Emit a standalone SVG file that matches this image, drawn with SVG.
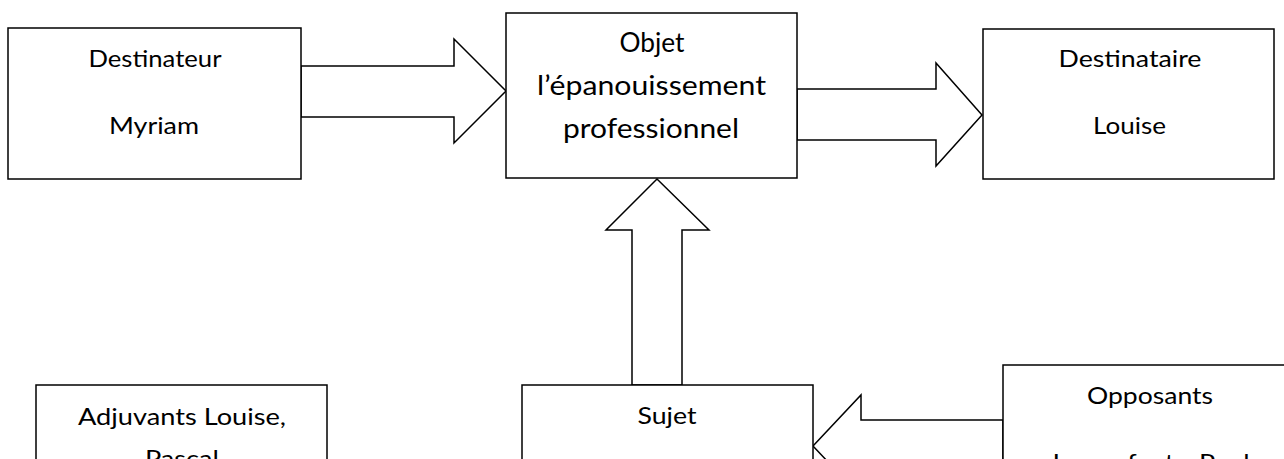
<svg xmlns="http://www.w3.org/2000/svg" width="1284" height="459" viewBox="0 0 1284 459">
<style>
.box{fill:#fff;stroke:#000;stroke-width:1.5}
.arr{fill:#fff;stroke:#000;stroke-width:1.5;stroke-linejoin:miter}
text{font-family:Lato,"Liberation Sans",sans-serif;font-size:23px;fill:#000;text-anchor:middle}
.big{font-size:26px}
</style>
<rect x="0" y="0" width="1284" height="459" fill="#fff"/>
<g id="connectors">
<polygon class="arr" points="301,66 454,66 454,39 506,91 454,143 454,117 301,117"/>
<polygon class="arr" points="797,89 936,89 936,63 982,115 936,166 936,140 797,140"/>
<polygon class="arr" points="632,385 632,230 606,230 657,179 709,230 682,230 682,385"/>
<polygon class="arr" points="1003,420 861,420 861,395 813,446 861,497 861,472 1003,472"/>
</g>
<g id="destinateur">
<rect class="box" x="8" y="28" width="293" height="151"/>
<text x="155" y="67" textLength="133" lengthAdjust="spacingAndGlyphs">Destinateur</text>
<text x="154" y="134" textLength="90" lengthAdjust="spacingAndGlyphs">Myriam</text>
</g>
<g id="objet">
<rect class="box" x="506" y="13" width="291" height="165"/>
<text class="big" x="652" y="52" textLength="65" lengthAdjust="spacingAndGlyphs">Objet</text>
<text class="big" x="651.5" y="95" textLength="229" lengthAdjust="spacingAndGlyphs">l’épanouissement</text>
<text class="big" x="651" y="138" textLength="176" lengthAdjust="spacingAndGlyphs">professionnel</text>
</g>
<g id="destinataire">
<rect class="box" x="983" y="29" width="291" height="150"/>
<text x="1130" y="67" textLength="143" lengthAdjust="spacingAndGlyphs">Destinataire</text>
<text x="1129.5" y="134" textLength="73" lengthAdjust="spacingAndGlyphs">Louise</text>
</g>
<g id="adjuvants">
<rect class="box" x="36" y="385" width="291" height="120"/>
<text x="182" y="425" textLength="208" lengthAdjust="spacingAndGlyphs">Adjuvants Louise,</text>
<text x="182" y="467" textLength="74" lengthAdjust="spacingAndGlyphs">Pascal</text>
</g>
<g id="sujet">
<rect class="box" x="522" y="385" width="291" height="120"/>
<text x="667" y="424" textLength="59" lengthAdjust="spacingAndGlyphs">Sujet</text>
</g>
<g id="opposants">
<rect class="box" x="1003" y="365" width="300" height="140"/>
<text x="1150" y="404" textLength="126" lengthAdjust="spacingAndGlyphs">Opposants</text>
<text x="1151" y="471" textLength="197" lengthAdjust="spacingAndGlyphs">Les enfants, Paul</text>
</g>
</svg>
